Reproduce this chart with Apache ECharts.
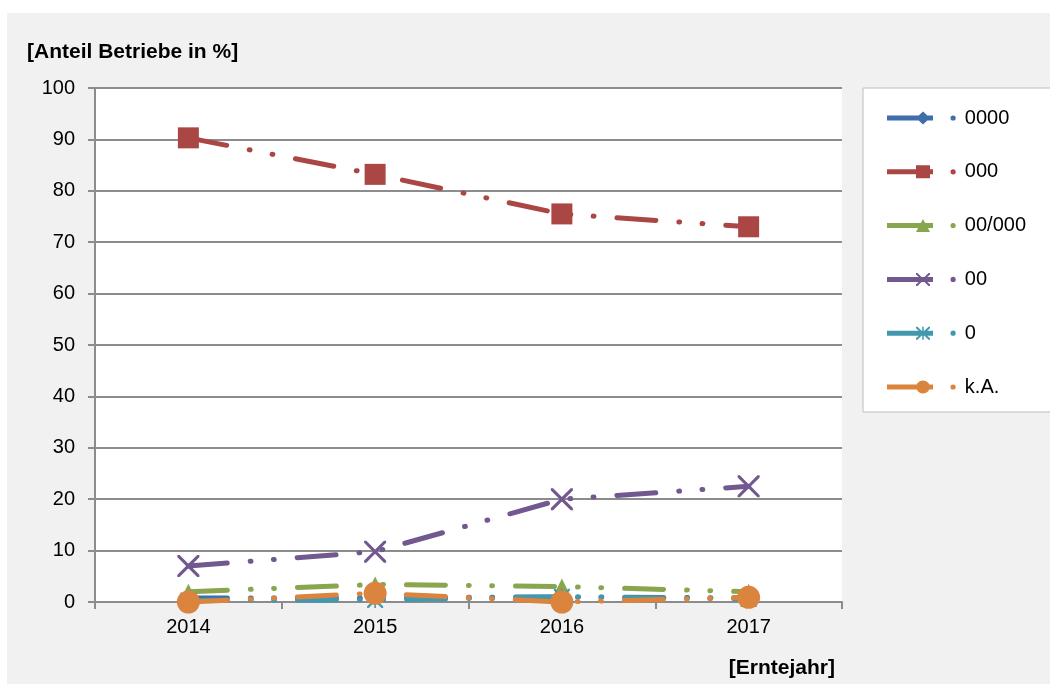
<!DOCTYPE html>
<html>
<head>
<meta charset="utf-8">
<script src="https://cdn.jsdelivr.net/npm/echarts@6/dist/echarts.min.js"></script>
<style>
  html, body { margin: 0; padding: 0; background: #fff; }
  #chart { width: 1050px; height: 684px; }
</style>
</head>
<body>
<div id="chart"></div>
<script>
// Daten
const years = ['2014', '2015', '2016', '2017'];
const names = ['0000', '000', '00/000', '00', '0', 'k.A.'];
const s0000 = [0.8, 0.8, 1.0, 0.8];
const s000 = [90.3, 83.2, 75.5, 73.0];
const s00_000 = [2.0, 3.4, 3.0, 2.0];
const s00 = [7.0, 9.8, 20.0, 22.5];
const s0 = [0.3, 0.4, 1.0, 0.6];
const sKA = [0.0, 1.7, 0.0, 0.9];
const yTicks = [0, 10, 20, 30, 40, 50, 60, 70, 80, 90, 100];

const colors = ['#3f6faa', '#aa4643', '#89a54e', '#71588f', '#4198af', '#db843d'];

// Symbole
const xPath = 'path://M0,0 L2,0 L10,8 L18,0 L20,0 L20,2 L12,10 L20,18 L20,20 L18,20 L10,12 L2,20 L0,20 L0,18 L8,10 L0,2 Z';
const starPath = 'path://M0,0 L2,0 L10,8 L18,0 L20,0 L20,2 L12,10 L20,18 L20,20 L18,20 L10,12 L2,20 L0,20 L0,18 L8,10 L0,2 Z M9,0 L11,0 L11,20 L9,20 Z';
const symbols = ['diamond', 'rect', 'triangle', xPath, starPath, 'circle'];
const symbolSizes = [14, 21, 16, 22, 16, 23];

// Legendensymbole: Linie + Marker + Punkt
const lineBase = 'M0,4 L46,4 L46,9 L0,9 Z M63.5,6.5 A2.6,2.6 0 1 1 68.7,6.5 A2.6,2.6 0 1 1 63.5,6.5 Z ';
const legendMarkers = [
  'M36,0 L43,6.5 L36,13 L29,6.5 Z',
  'M29,0 L43,0 L43,13 L29,13 Z',
  'M36,0 L43,13 L29,13 Z',
  'M29,0 L30.5,0 L36,5.5 L41.5,0 L43,0 L43,1.5 L37.5,6.5 L43,11.5 L43,13 L41.5,13 L36,7.5 L30.5,13 L29,13 L29,11.5 L34.5,6.5 L29,1.5 Z',
  'M29,0 L30.5,0 L36,5.5 L41.5,0 L43,0 L43,1.5 L37.5,6.5 L43,11.5 L43,13 L41.5,13 L36,7.5 L30.5,13 L29,13 L29,11.5 L34.5,6.5 L29,1.5 Z M35.25,0 L36.75,0 L36.75,13 L35.25,13 Z',
  'M29,6.5 A7,6.5 0 1 1 43,6.5 A7,6.5 0 1 1 29,6.5 Z'
];

const allData = [s0000, s000, s00_000, s00, s0, sKA];

const chart = echarts.init(document.getElementById('chart'));

const series = names.map((n, i) => ({
  name: n,
  type: 'line',
  data: allData[i],
  symbol: symbols[i],
  symbolSize: symbolSizes[i],
  showAllSymbol: true,
  color: colors[i],
  itemStyle: { color: colors[i] },
  lineStyle: {
    width: 5,
    color: colors[i],
    type: [39, 23, 0.8, 22.5, 0.8, 23],
    cap: 'round'
  },
  emphasis: { disabled: true },
  animation: false
}));

chart.setOption({
  animation: false,
  textStyle: { fontFamily: 'Liberation Sans, Arial, sans-serif' },
  graphic: [{
    type: 'rect',
    left: 7, top: 13,
    shape: { width: 1043, height: 671 },
    style: { fill: '#f1f1f1' },
    z: -10, silent: true
  }],
  title: [
    {
      text: '[Anteil Betriebe in %]',
      left: 22, top: 37,
      textStyle: { fontSize: 21, fontWeight: 'bold', color: '#000', fontFamily: 'Liberation Sans, Arial, sans-serif' }
    },
    {
      text: '[Erntejahr]',
      right: 210, top: 653,
      textStyle: { fontSize: 21, fontWeight: 'bold', color: '#000', fontFamily: 'Liberation Sans, Arial, sans-serif' }
    }
  ],
  legend: {
    orient: 'vertical',
    left: 863, top: 88,
    padding: [20, 40, 15, 24],
    itemGap: 33.8,
    itemWidth: 69,
    itemHeight: 13,
    backgroundColor: '#fff',
    borderColor: '#bdbdbd',
    borderWidth: 1,
    textStyle: { fontSize: 20, color: '#000', padding: [0, 0, 0, 4] },
    data: names.map((n, i) => ({ name: n, icon: 'path://' + lineBase + legendMarkers[i] }))
  },
  grid: {
    left: 95, right: 208, top: 88, bottom: 82,
    show: true, backgroundColor: '#fff', borderWidth: 0
  },
  xAxis: {
    type: 'category',
    data: years,
    boundaryGap: true,
    axisLine: { lineStyle: { color: '#8c8c8c', width: 2 } },
    axisTick: { show: true, interval: 0, length: 7, lineStyle: { color: '#8c8c8c', width: 2 } },
    axisLabel: { fontSize: 20, color: '#000', margin: 15 }
  },
  yAxis: {
    type: 'value',
    min: yTicks[0], max: yTicks[yTicks.length - 1], interval: 10,
    axisLine: { show: true, lineStyle: { color: '#8c8c8c', width: 2 } },
    axisTick: { show: true, length: 7, lineStyle: { color: '#8c8c8c', width: 2 } },
    axisLabel: { fontSize: 20, color: '#000', margin: 20 },
    splitLine: { lineStyle: { color: '#8c8c8c', width: 2 } }
  },
  series: series
});
</script>
</body>
</html>
